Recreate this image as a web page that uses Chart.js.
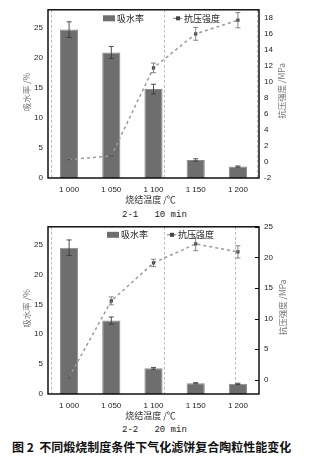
<!DOCTYPE html>
<html>
<head>
<meta charset="utf-8">
<script src="https://cdn.jsdelivr.net/npm/chart.js@4/dist/chart.umd.min.js"></script>
<style>
  html, body { margin:0; padding:0; background:#fff; }
  body { width:315px; height:457px; position:relative; overflow:hidden; }
  .cv { position:absolute; left:0; width:315px; height:208px; }
  .sub { position:absolute; left:122px; font-family:"Liberation Mono", monospace; font-size:9px; color:#222; white-space:pre; line-height:10px; }
  .cap { position:absolute; left:12px; top:439px; font-family:"Noto Sans CJK SC", sans-serif; font-size:12px; color:#111; white-space:pre; line-height:16px; font-weight:bold; }
</style>
</head>
<body>
<div class="cv" style="top:0px"><canvas id="c1" width="315" height="208"></canvas></div>
<div class="sub" style="top:210px">2-1   10 min</div>
<div class="cv" style="top:217px"><canvas id="c2" width="315" height="208"></canvas></div>
<div class="sub" style="top:425px">2-2   20 min</div>
<div class="cap">图 2  不同煅烧制度条件下气化滤饼复合陶粒性能变化</div>
<script>
// ---- data ----
const categories = ['1 000', '1 050', '1 100', '1 150', '1 200'];
const seriesNames = ['吸水率', '抗压强度'];
const xTitle = '烧结温度 /℃';
const leftTitle = '吸水率 /%';
const rightTitle = '抗压强度 /MPa';

const absorption10 = [24.7, 20.9, 14.8, 3.0, 1.9];
const absorption10Err = [1.3, 1.0, 0.8, 0.2, 0.1];
const strength10 = [0.3, 0.75, 11.75, 16.0, 17.7];
const strength10Err = [0.15, 0.15, 0.6, 0.8, 0.95];

const absorption20 = [24.5, 12.3, 4.3, 1.8, 1.7];
const absorption20Err = [1.3, 0.6, 0.15, 0.1, 0.1];
const strength20 = [0.45, 12.9, 19.1, 22.2, 20.9];
const strength20Err = [0.15, 0.65, 0.6, 1.1, 1.0];

const leftRange = [0, 28];
const leftStep = 5;
const right10Range = [-2, 19];
const right10Step = 2;
const right20Range = [-2.3, 25];
const right20Step = 5;
// dashed guide lines (category-index units), as in the original figure
const guides10 = [-0.44, 2.25, 4.45];
const guides20 = [-0.44, 2.25, 3.94];

const BAR = '#6e6e6e';
const TICKFONT = {family: 'Liberation Sans', size: 8};
const CJK = '"Noto Sans CJK SC", sans-serif';

const decor = {
  id: 'decor',
  beforeDatasetsDraw(chart, args, o) {
    const ctx = chart.ctx, a = chart.chartArea, xs = chart.scales.x;
    ctx.save();
    ctx.strokeStyle = '#bdbdbd'; ctx.lineWidth = 1; ctx.setLineDash([3, 2]);
    o.guides.forEach(g => {
      const x = Math.round(xs.getPixelForValue(g)) + 0.5;
      ctx.beginPath(); ctx.moveTo(x, a.top); ctx.lineTo(x, a.bottom); ctx.stroke();
    });
    ctx.restore();
  },
  afterDatasetsDraw(chart, args, o) {
    const ctx = chart.ctx, a = chart.chartArea;
    ctx.save();
    // error bars
    chart.data.datasets.forEach((ds, i) => {
      const meta = chart.getDatasetMeta(i);
      const sc = chart.scales[meta.yAxisID];
      ctx.strokeStyle = ds.type === 'bar' ? '#3a3a3a' : '#777';
      ctx.lineWidth = 0.9; ctx.setLineDash([]);
      meta.data.forEach((el, j) => {
        const v = ds.data[j], e = ds.errors[j];
        const y1 = sc.getPixelForValue(v + e), y2 = sc.getPixelForValue(v - e);
        const x = el.x;
        ctx.beginPath();
        ctx.moveTo(x, y1); ctx.lineTo(x, y2);
        ctx.moveTo(x - 2.5, y1); ctx.lineTo(x + 2.5, y1);
        ctx.moveTo(x - 2.5, y2); ctx.lineTo(x + 2.5, y2);
        ctx.stroke();
      });
    });
    // frame
    ctx.strokeStyle = '#000'; ctx.lineWidth = 1.4;
    ctx.strokeRect(a.left, a.top, a.right - a.left, a.bottom - a.top);
    // inner ticks on right axis
    if (o.innerTicks) {
      const sc = chart.scales.y1;
      ctx.lineWidth = 1;
      sc.ticks.forEach(t => {
        const y = Math.round(sc.getPixelForValue(t.value)) + 0.5;
        ctx.beginPath(); ctx.moveTo(a.right - 4, y); ctx.lineTo(a.right, y); ctx.stroke();
      });
    }
    // legend
    const ly = a.top + o.legendY;
    ctx.fillStyle = BAR;
    ctx.fillRect(a.left + o.barKeyX, ly - 3, 12, 6);
    ctx.fillStyle = '#222'; ctx.font = '9px ' + CJK; ctx.textBaseline = 'middle'; ctx.textAlign = 'left';
    ctx.fillText(chart.data.datasets[0].label, a.left + o.barKeyX + 14, ly);
    const lx = a.left + o.lineKeyX;
    ctx.strokeStyle = '#777'; ctx.lineWidth = 1;
    ctx.beginPath(); ctx.moveTo(lx, ly); ctx.lineTo(lx + 9, ly); ctx.stroke();
    ctx.fillStyle = '#444'; ctx.fillRect(lx + 3, ly - 2, 4, 4);
    ctx.fillStyle = '#222';
    ctx.fillText(chart.data.datasets[1].label, lx + 11, ly);
    // axis titles
    ctx.fillStyle = '#777'; ctx.font = '8.5px ' + CJK; ctx.textAlign = 'center';
    const cy = (a.top + a.bottom) / 2;
    ctx.save(); ctx.translate(27, cy - 2); ctx.rotate(-Math.PI / 2); ctx.fillText(leftTitle, 0, 0); ctx.restore();
    ctx.save(); ctx.translate(o.rightTitleX, cy - 3); ctx.rotate(-Math.PI / 2); ctx.fillText(rightTitle, 0, 0); ctx.restore();
    ctx.fillStyle = '#333'; ctx.font = '9px ' + CJK;
    ctx.fillText(xTitle, (a.left + a.right) / 2 - 3, a.bottom + o.xTitleDY);
    ctx.restore();
  }
};

function makeChart(id, bars, barErr, line, lineErr, rRange, rStep, guides, extra) {
  return new Chart(document.getElementById(id), {
    data: {
      labels: categories,
      datasets: [
        { type: 'bar', label: seriesNames[0], data: bars, errors: barErr, yAxisID: 'y', order: 1,
          backgroundColor: BAR, borderColor: '#8a8a8a', borderWidth: 1,
          barPercentage: 0.43, categoryPercentage: 1 },
        { type: 'line', label: seriesNames[1], data: line, errors: lineErr, yAxisID: 'y1', order: 0,
          borderColor: '#9a9a9a', borderWidth: 1.5, borderDash: [3, 3], fill: false, tension: 0,
          pointStyle: 'rect', pointRadius: 2.3, pointBackgroundColor: '#444', pointBorderColor: '#444', pointBorderWidth: 0 }
      ]
    },
    options: {
      responsive: false, animation: false, devicePixelRatio: 1,
      layout: { padding: { top: 9, left: 0, right: 0, bottom: 0 } },
      plugins: { legend: { display: false }, tooltip: { enabled: false },
        decor: Object.assign({ guides: guides }, extra) },
      scales: {
        x: { type: 'category', offset: true, grid: { display: false, drawTicks: false }, border: { display: false },
             ticks: { font: TICKFONT, color: '#222', padding: 7, maxRotation: 0 },
             afterFit: s => { s.height = extra.xHeight; } },
        y: { position: 'left', min: leftRange[0], max: leftRange[1], grid: { display: false, drawTicks: false }, border: { display: false },
             ticks: { stepSize: leftStep, includeBounds: false, font: TICKFONT, color: '#222', padding: 5 },
             afterFit: s => { s.width = 48; } },
        y1: { position: 'right', min: rRange[0], max: rRange[1], grid: { display: false, drawTicks: false }, border: { display: false },
             ticks: { stepSize: rStep, includeBounds: false, font: TICKFONT, color: '#222', padding: 5 },
             afterFit: s => { s.width = 56; } }
      }
    },
    plugins: [decor]
  });
}

makeChart('c1', absorption10, absorption10Err, strength10, strength10Err, right10Range, right10Step, guides10,
  { xHeight: 30, legendY: 8.5, barKeyX: 55, lineKeyX: 125, rightTitleX: 282, xTitleDY: 22, innerTicks: false });
makeChart('c2', absorption20, absorption20Err, strength20, strength20Err, right20Range, right20Step, guides20,
  { xHeight: 31, legendY: 8, barKeyX: 59, lineKeyX: 119, rightTitleX: 283, xTitleDY: 22, innerTicks: true });
</script>
</body>
</html>
